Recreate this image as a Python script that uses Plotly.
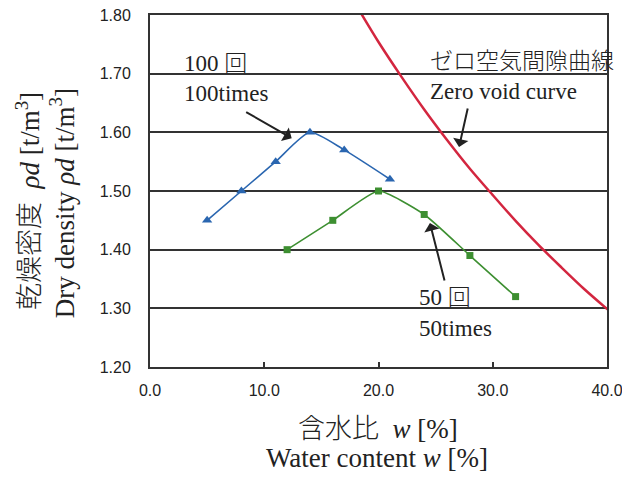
import plotly.graph_objects as go

# 100 times compaction
w_100 = [5, 8, 11, 14, 17, 21]
rho_100 = [1.45, 1.50, 1.55, 1.60, 1.57, 1.52]

# 50 times compaction
w_50 = [12, 16, 20, 24, 28, 32]
rho_50 = [1.40, 1.45, 1.50, 1.46, 1.39, 1.32]

# zero air void curve
w_zav = [18.1, 20, 22, 24, 26, 28, 30, 32, 34, 36, 38, 40, 40.3]
rho_zav = [1.815, 1.754, 1.695, 1.639, 1.587, 1.538, 1.493, 1.449, 1.408, 1.370, 1.333, 1.299, 1.294]

x_ticks = [0, 10, 20, 30, 40]
x_tick_labels = ["0.0", "10.0", "20.0", "30.0", "40.0"]
y_ticks = [1.2, 1.3, 1.4, 1.5, 1.6, 1.7, 1.8]
y_tick_labels = ["1.20", "1.30", "1.40", "1.50", "1.60", "1.70", "1.80"]

SERIF = "Liberation Serif, 'Noto Sans CJK JP', serif"
SANS = "Liberation Sans, Arial, sans-serif"

fig = go.Figure()
fig.add_trace(go.Scatter(
    x=w_zav, y=rho_zav, mode="lines",
    line=dict(color="#d3263f", width=2.5, shape="spline", smoothing=0.8),
    showlegend=False, cliponaxis=False))
fig.add_trace(go.Scatter(
    x=w_100, y=rho_100, mode="lines+markers",
    line=dict(color="#2a66b0", width=1.6, shape="spline", smoothing=0.6),
    marker=dict(symbol="triangle-up", size=9, color="#2a66b0"),
    showlegend=False))
fig.add_trace(go.Scatter(
    x=w_50, y=rho_50, mode="lines+markers",
    line=dict(color="#3d8f31", width=1.6, shape="spline", smoothing=0.5),
    marker=dict(symbol="square", size=7, color="#3d8f31"),
    showlegend=False))

txt = dict(family=SERIF, size=23, color="#222")
cjk = dict(family=SERIF, size=23, color="#222", weight=300)
ann = []
ann.append(dict(x=2.8, y=1.718, xref="x", yref="y", text="100 回", showarrow=False,
                xanchor="left", yanchor="middle", font=cjk))
ann.append(dict(x=2.8, y=1.667, xref="x", yref="y", text="100times", showarrow=False,
                xanchor="left", yanchor="middle", font=txt))
ann.append(dict(x=24.3, y=1.72, xref="x", yref="y", text="ゼロ空気間隙曲線", showarrow=False,
                xanchor="left", yanchor="middle", font=cjk))
ann.append(dict(x=24.3, y=1.669, xref="x", yref="y", text="Zero void curve", showarrow=False,
                xanchor="left", yanchor="middle", font=txt))
ann.append(dict(x=23.4, y=1.318, xref="x", yref="y", text="50 回", showarrow=False,
                xanchor="left", yanchor="middle", font=cjk))
ann.append(dict(x=23.4, y=1.266, xref="x", yref="y", text="50times", showarrow=False,
                xanchor="left", yanchor="middle", font=txt))
# arrows
arrow = dict(showarrow=True, arrowhead=1, arrowsize=1.3, arrowwidth=2, arrowcolor="#222",
             text="", xref="x", yref="y", axref="pixel", ayref="pixel")
ann.append(dict(x=12.4, y=1.59, ax=-47, ay=-27, **arrow))
ann.append(dict(x=27.05, y=1.575, ax=9, ay=-40, **arrow))
ann.append(dict(x=24.5, y=1.4455, ax=15, ay=59, **arrow))

# axis titles
title_font = dict(family=SERIF, size=27, color="#222")
title_cjk = dict(family=SERIF, size=27, color="#222", weight=300)
ann.append(dict(x=0.499, y=-0.175, xref="paper", yref="paper", showarrow=False,
                text="含水比  <i>w</i> [%]", font=title_cjk, xanchor="center", yanchor="middle"))
ann.append(dict(x=0.497, y=-0.258, xref="paper", yref="paper", showarrow=False,
                text="Water content <i>w</i> [%]", font=title_font, xanchor="center", yanchor="middle"))
ann.append(dict(x=-0.268, y=0.47, xref="paper", yref="paper", showarrow=False, textangle=-90,
                text="乾燥密度  <i>ρd</i> [t/m<sup>3</sup>]", font=title_cjk,
                xanchor="center", yanchor="middle"))
ann.append(dict(x=-0.192, y=0.466, xref="paper", yref="paper", showarrow=False, textangle=-90,
                text="Dry density <i>ρd</i> [t/m<sup>3</sup>]", font=title_font,
                xanchor="center", yanchor="middle"))

fig.update_layout(
    width=622, height=480,
    margin=dict(l=150, r=15, t=15, b=113, autoexpand=False),
    paper_bgcolor="white", plot_bgcolor="white",
    annotations=ann,
    showlegend=False,
)
fig.update_xaxes(range=[0, 40], tickvals=x_ticks, ticktext=x_tick_labels,
                 ticks="inside", ticklen=5, tickcolor="#333", tickwidth=1.5,
                 showgrid=False, zeroline=False, automargin=False,
                 showline=True, linecolor="#333", linewidth=2, mirror=True,
                 ticklabeloverflow="allow",
                 tickfont=dict(family=SANS, size=16, color="#222"), ticklabelstandoff=8)
fig.update_yaxes(range=[1.2, 1.8], tickvals=y_ticks, ticktext=y_tick_labels,
                 ticks="", showgrid=True, gridcolor="#333", gridwidth=1.5,
                 zeroline=False, automargin=False,
                 showline=True, linecolor="#333", linewidth=2, mirror=True,
                 tickfont=dict(family=SANS, size=16, color="#222"), ticklabelstandoff=14)

fig.write_html("out.html", config={"displayModeBar": False},
               post_script="document.body.style.margin='0';document.body.style.padding='0';")
